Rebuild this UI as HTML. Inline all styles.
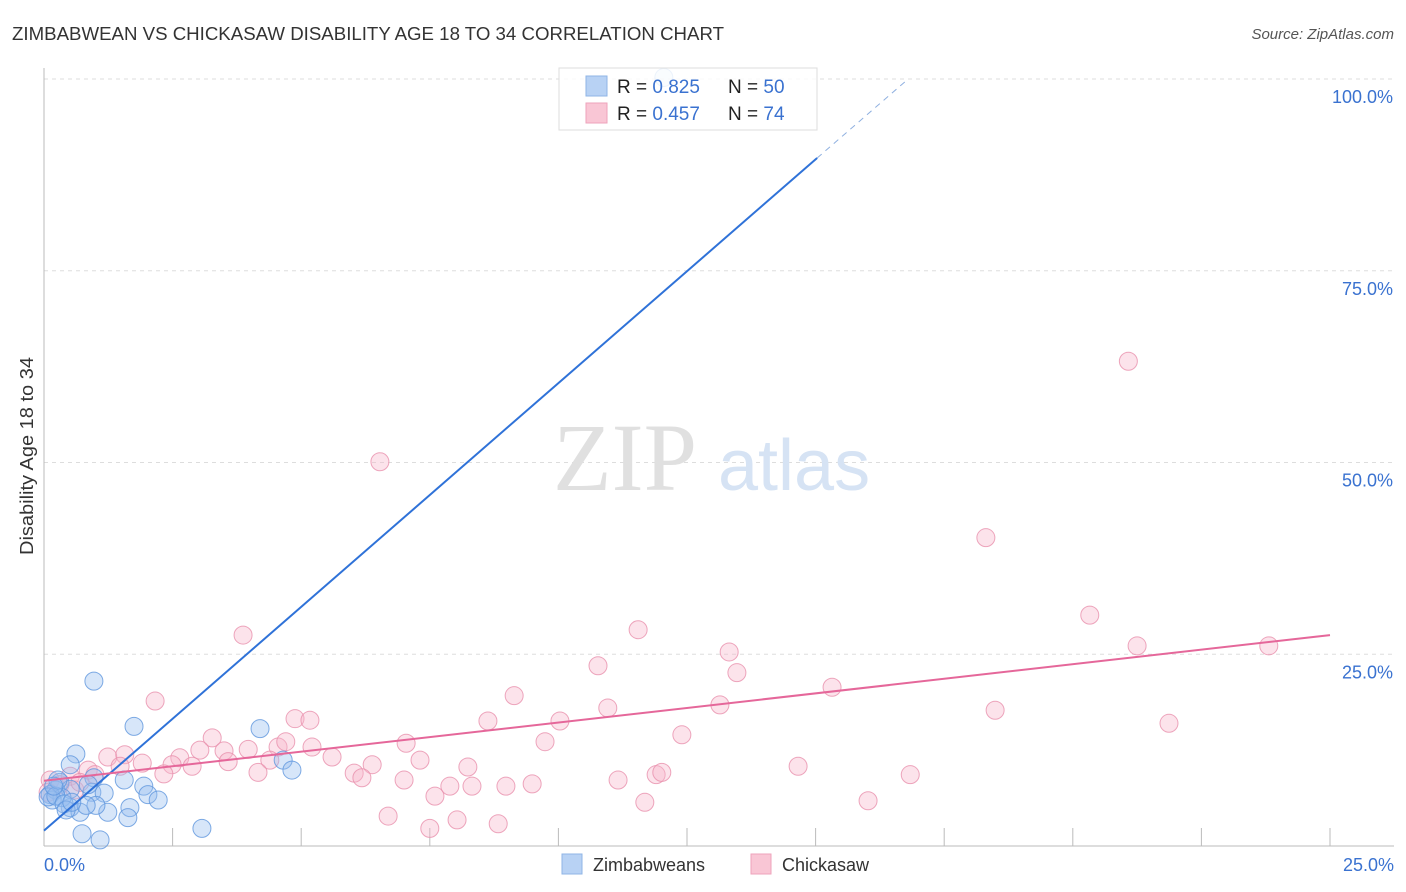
<!DOCTYPE html>
<html><head><meta charset="utf-8"><style>
html,body{margin:0;padding:0;background:#fff;}
svg{display:block;font-family:"Liberation Sans",sans-serif;}
</style></head><body>
<svg id="chart" width="1406" height="892">
<text x="12" y="40" font-size="18" fill="#333" textLength="712" lengthAdjust="spacingAndGlyphs">ZIMBABWEAN VS CHICKASAW DISABILITY AGE 18 TO 34 CORRELATION CHART</text>
<text x="1394" y="39" font-size="15" fill="#555" font-style="italic" text-anchor="end">Source: ZipAtlas.com</text>
<g id="grid"></g>
<text x="553" y="490" font-family="Liberation Serif,serif" font-size="96" fill="#e0e0e0">ZIP</text>
<text x="718" y="490" font-size="72" fill="#d6e3f4">atlas</text>
<line x1="44" y1="68" x2="44" y2="846" stroke="#bbb"/>
<line x1="44" y1="846" x2="1394" y2="846" stroke="#bbb"/>
<text transform="translate(33,456) rotate(-90)" font-size="18" fill="#333" text-anchor="middle" textLength="198" lengthAdjust="spacingAndGlyphs">Disability Age 18 to 34</text>
<g id="xt"></g>
<g id="pts"></g>
<g id="lines"></g>
<g>
<rect x="559" y="68" width="258" height="62" fill="rgba(255,255,255,0.85)" stroke="#ddd"/>
<rect x="586" y="76" width="21" height="20" fill="#b8d2f4" stroke="#8fb4e6"/>
<rect x="586" y="103" width="21" height="20" fill="#f9c6d5" stroke="#eea3bb"/>
<text x="617" y="93" font-size="19" fill="#222">R = <tspan fill="#3a72d0">0.825</tspan></text>
<text x="728" y="93" font-size="19" fill="#222">N = <tspan fill="#3a72d0">50</tspan></text>
<text x="617" y="120" font-size="19" fill="#222">R = <tspan fill="#3a72d0">0.457</tspan></text>
<text x="728" y="120" font-size="19" fill="#222">N = <tspan fill="#3a72d0"> 74</tspan></text>
</g>
<g>
<rect x="562" y="854" width="20" height="20" fill="#b8d2f4" stroke="#8fb4e6"/>
<text x="593" y="871" font-size="18" fill="#333">Zimbabweans</text>
<rect x="751" y="854" width="20" height="20" fill="#f9c6d5" stroke="#eea3bb"/>
<text x="782" y="871" font-size="18" fill="#333">Chickasaw</text>
</g>
</svg>
<script>
const yTicks=[100,75,50,25];
const yTickLabels=["100.0%","75.0%","50.0%","25.0%"];
const xTickVals=[2.5,5,7.5,10,12.5,15,17.5,20,22.5,25];
const xEndLabels=["0.0%","25.0%"];
const blueX=[0.97,1.75,4.20,0.62,0.51,4.65,4.82,1.56,1.94,0.97,0.31,0.23,0.51,0.93,1.17,2.02,2.22,1.67,1.24,1.63,0.51,0.70,1.01,0.82,0.35,0.12,0.16,0.08,0.23,0.39,0.43,0.74,1.09,3.07,0.54,0.86,0.27,0.19,12.05];
const blueY=[21.5,15.6,15.3,12.0,10.6,11.2,9.9,8.6,7.8,8.9,8.3,7.3,7.4,7.0,6.9,6.7,6.0,5.0,4.4,3.7,5.0,4.4,5.3,5.3,6.3,6.7,6.0,6.4,6.5,5.5,4.7,1.6,0.8,2.3,5.7,8.0,8.6,7.8,100.2];
const pinkX=[21.08,6.53,18.31,20.33,3.87,11.55,21.25,23.81,13.32,10.77,13.47,15.32,2.16,9.14,13.14,18.49,10.96,4.88,5.17,8.63,10.03,21.87,3.27,9.74,12.40,7.04,1.24,1.57,3.97,4.55,5.21,2.64,3.03,3.50,4.70,5.60,1.91,2.49,2.88,3.58,4.39,6.38,7.31,8.24,14.66,0.86,1.48,2.33,4.16,6.03,6.18,7.00,7.89,8.32,8.98,9.49,11.16,11.90,12.01,16.84,7.60,11.68,16.02,6.69,8.03,7.50,8.83,0.12,0.31,0.51,0.60,0.08,0.99,0.70];
const pinkY=[63.2,50.1,40.2,30.1,27.5,28.2,26.1,26.1,25.3,23.5,22.6,20.7,18.9,19.6,18.4,17.7,18.0,16.6,16.4,16.3,16.3,16.0,14.1,13.6,14.5,13.4,11.6,11.9,12.6,12.9,12.9,11.5,12.5,12.4,13.6,11.6,10.8,10.6,10.4,11.0,11.2,10.6,11.2,10.3,10.4,9.9,10.4,9.4,9.6,9.5,8.9,8.6,7.8,7.8,7.8,8.1,8.6,9.3,9.6,9.3,6.5,5.7,5.9,3.9,3.4,2.3,2.9,8.6,8.0,9.1,7.3,7.0,9.3,8.3];
const blueTrend=[0,2.0,15.03,89.7,16.8,100];
const pinkTrend=[0,8.5,25,27.5];
const NS="http://www.w3.org/2000/svg";
const sx=v=>44+v/25*1286;
const sy=v=>846-v/100*767;
function mk(tag,attrs,parent){const e=document.createElementNS(NS,tag);for(const k in attrs)e.setAttribute(k,attrs[k]);document.getElementById(parent).appendChild(e);return e;}
yTicks.forEach((t,i)=>{
  const g=mk('line',{x1:44,x2:1394,y1:sy(t),y2:sy(t),stroke:'#ddd','stroke-dasharray':'4,4'},'grid');
  
  
  const l=mk('text',{x:1393,y:sy(t)+24,'font-size':18,fill:'#3a72d0','text-anchor':'end'},'grid');
  l.textContent=yTickLabels[i];
  
  
});
xTickVals.forEach(t=>{
  const e=mk('line',{x1:sx(t),x2:sx(t),y1:828,y2:846,stroke:'#bbb'},'xt');
  
  
});
[[0,'start',44],[25,'end',1394]].forEach((d,i)=>{
  const e=mk('text',{x:d[2],y:871,'font-size':18,fill:'#3a72d0','text-anchor':d[1]},'xt');
  e.textContent=xEndLabels[i];
  
  
});
pinkX.forEach((x,i)=>{
  const c=mk('circle',{cx:sx(x),cy:sy(pinkY[i]),r:9,fill:'rgba(246,182,202,0.38)',stroke:'rgba(232,144,173,0.8)','stroke-width':1},'pts');
  
  
});
blueX.forEach((x,i)=>{
  const c=mk('circle',{cx:sx(x),cy:sy(blueY[i]),r:9,fill:'rgba(150,190,240,0.38)',stroke:'rgba(95,150,221,0.8)','stroke-width':1},'pts');
  
  
});
let b=mk('line',{x1:sx(blueTrend[0]),y1:sy(blueTrend[1]),x2:sx(blueTrend[2]),y2:sy(blueTrend[3]),stroke:'#2f72d8','stroke-width':2},'lines');


b=mk('line',{x1:sx(blueTrend[2]),y1:sy(blueTrend[3]),x2:sx(blueTrend[4]),y2:sy(blueTrend[5]),stroke:'#8fb0e0','stroke-width':1,'stroke-dasharray':'6,5'},'lines');


b=mk('line',{x1:sx(pinkTrend[0]),y1:sy(pinkTrend[1]),x2:sx(pinkTrend[2]),y2:sy(pinkTrend[3]),stroke:'#e5679a','stroke-width':2},'lines');


</script>
</body></html>
